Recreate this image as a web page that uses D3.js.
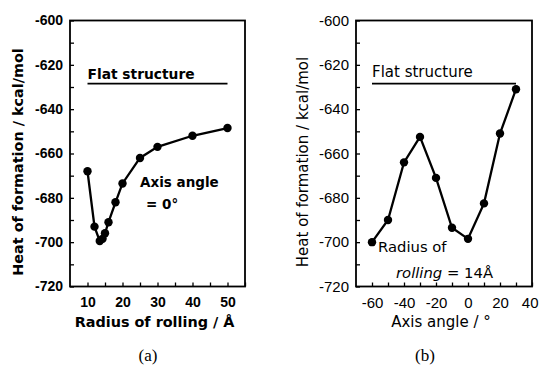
<!DOCTYPE html>
<html>
<head>
<meta charset="utf-8">
<script src="https://cdn.jsdelivr.net/npm/d3@7"></script>
<style>
  body { margin: 0; background: #fff; }
  svg { display: block; font-family: "DejaVu Sans", sans-serif; }
</style>
</head>
<body>
<div class="chart"></div>
<script>
var svgWidth = 539;
var svgHeight = 374;

// panel (a): radius of rolling vs heat of formation
var radiusValues = [10, 12, 13.5, 14.3, 15, 16, 18, 20, 25, 30, 40, 50];
var radiusHeat = [-668, -693, -699.5, -698.5, -696, -691, -682, -673.5, -662, -657, -652, -648.5];
var radiusTicks = [10, 20, 30, 40, 50];

// panel (b): axis angle vs heat of formation
var angleValues = [-60, -50, -40, -30, -20, -10, 0, 10, 20, 30];
var angleHeat = [-700, -690, -664, -652.5, -671, -693.5, -698.5, -682.5, -651, -631];
var angleTicks = [-60, -40, -20, 0, 20, 40];

var heatTicks = [-720, -700, -680, -660, -640, -620, -600];
var flatHeat = -628.5;

var svg = d3.select(".chart")
  .append("svg")
  .attr("width", svgWidth)
  .attr("height", svgHeight);

function drawPanel(opt) {
  var g = svg.append("g");
  var weight = opt.bold ? "bold" : "normal";

  var x = d3.scaleLinear().domain(opt.xDomain).range([opt.left, opt.right]);
  var y = d3.scaleLinear().domain([-720, -600]).range([286.5, 20.5]);

  // frame
  g.append("rect")
    .attr("x", opt.left)
    .attr("y", y(-600))
    .attr("width", opt.right - opt.left)
    .attr("height", y(-720) - y(-600))
    .attr("fill", "none")
    .attr("stroke", "#000")
    .attr("stroke-width", 1.8);

  // left axis, ticks inside
  var leftAxis = d3.axisLeft(y)
    .tickValues(d3.range(-720, -599, 10))
    .tickSize(-4)
    .tickPadding(7)
    .tickFormat(d => heatTicks.indexOf(d) >= 0 ? String(d) : "");
  var yAxis = g.append("g")
    .attr("transform", `translate(${opt.left}, 0)`)
    .call(leftAxis);

  // bottom axis
  var bottomAxis = d3.axisBottom(x)
    .tickValues(d3.range(opt.xDomain[0] + opt.minorStep, opt.xDomain[1] + 0.01, opt.minorStep))
    .tickSize(-4)
    .tickPadding(11)
    .tickFormat(d => opt.xTicks.indexOf(d) >= 0 ? String(d) : "");
  var xAxis = g.append("g")
    .attr("transform", `translate(0, ${y(-720)})`)
    .call(bottomAxis);

  [xAxis, yAxis].forEach(function(a) {
    a.select(".domain").remove();
    a.selectAll("line").attr("stroke", "#000").attr("stroke-width", 1.3);
    a.selectAll("text")
      .attr("fill", "#000")
      .style("font-size", opt.tickSize)
      .style("font-weight", weight);
  });

  // keep the last x label inside the picture
  xAxis.selectAll(".tick text")
    .filter(d => d === opt.xDomain[1] && opt.xTicks.indexOf(d) >= 0)
    .attr("text-anchor", "end")
    .attr("dx", 539 - opt.right - 1);

  // flat structure reference line
  g.append("line")
    .attr("x1", x(opt.flatFrom))
    .attr("x2", x(opt.flatTo))
    .attr("y1", y(flatHeat))
    .attr("y2", y(flatHeat))
    .attr("stroke", "#000")
    .attr("stroke-width", 1.8);

  g.append("text")
    .attr("x", x(opt.flatFrom))
    .attr("y", y(flatHeat) - opt.flatGap)
    .style("font-size", opt.flatSize)
    .style("font-weight", weight)
    .text("Flat structure");

  // data line + points
  var pts = opt.xs.map((v, i) => [v, opt.ys[i]]);
  var line = d3.line().x(d => x(d[0])).y(d => y(d[1]));

  g.append("path")
    .datum(pts)
    .attr("d", line)
    .attr("fill", "none")
    .attr("stroke", "#000")
    .attr("stroke-width", 2.3);

  g.selectAll("circle")
    .data(pts)
    .enter()
    .append("circle")
    .attr("cx", d => x(d[0]))
    .attr("cy", d => y(d[1]))
    .attr("r", 4.2)
    .attr("fill", "#000");

  // axis titles
  g.append("text")
    .attr("transform", `translate(${opt.yTitleX}, 162) rotate(-90)`)
    .attr("text-anchor", "middle")
    .style("font-size", opt.titleSize)
    .style("font-weight", weight)
    .text("Heat of formation / kcal/mol");

  g.append("text")
    .attr("x", (opt.left + opt.right) / 2 - 3)
    .attr("y", 327)
    .attr("text-anchor", "middle")
    .style("font-size", opt.titleSize)
    .style("font-weight", weight)
    .text(opt.xTitle);

  // caption
  g.append("text")
    .attr("x", opt.captionX)
    .attr("y", 361)
    .attr("text-anchor", "middle")
    .style("font-family", "'Liberation Serif', 'DejaVu Serif', serif")
    .style("font-size", "17px")
    .text(opt.caption);

  return g;
}

var panelA = drawPanel({
  left: 70, right: 245,
  xDomain: [5, 55], minorStep: 5, xTicks: radiusTicks,
  xs: radiusValues, ys: radiusHeat,
  flatFrom: 10, flatTo: 50, flatGap: 5, flatSize: "13.8px",
  bold: true, yTitleX: 23, tickSize: "14px", titleSize: "14.4px",
  xTitle: "Radius of rolling /  Å",
  caption: "(a)", captionX: 148
});

var panelB = drawPanel({
  left: 356, right: 532,
  xDomain: [-70, 40], minorStep: 10, xTicks: angleTicks,
  xs: angleValues, ys: angleHeat,
  flatFrom: -60, flatTo: 30, flatGap: 7, flatSize: "15px",
  bold: false, yTitleX: 308, tickSize: "15px", titleSize: "15px",
  xTitle: "Axis angle /  °",
  caption: "(b)", captionX: 425
});

// annotations
panelA.append("text")
  .attr("x", 140).attr("y", 187)
  .style("font-size", "13.5px").style("font-weight", "bold")
  .text("Axis angle");
panelA.append("text")
  .attr("x", 146).attr("y", 209)
  .style("font-size", "13.5px").style("font-weight", "bold")
  .text("= 0°");

panelB.append("text")
  .attr("x", 378).attr("y", 252)
  .style("font-size", "14.8px")
  .text("Radius of");
var rl = panelB.append("text")
  .attr("x", 396).attr("y", 278)
  .style("font-size", "14.8px");
rl.append("tspan").style("font-style", "italic").text("rolling");
rl.append("tspan").text(" = 14Å");
</script>
</body>
</html>
